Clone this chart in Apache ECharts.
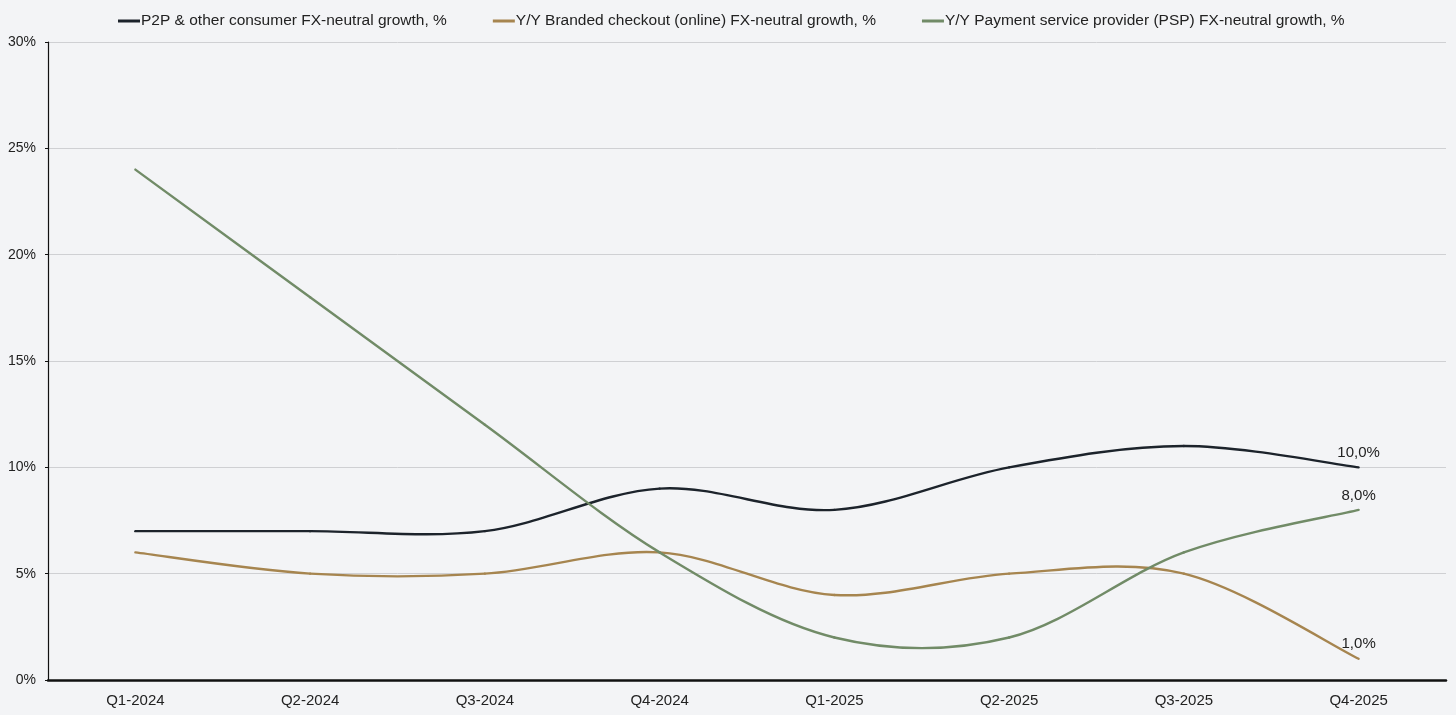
<!DOCTYPE html>
<html>
<head>
<meta charset="utf-8">
<script src="https://cdn.jsdelivr.net/npm/echarts@6/dist/echarts.min.js"></script>
<style>
html,body{margin:0;padding:0;background:#f3f4f6;}
#c{width:1456px;height:715px;}
</style>
</head>
<body>
<div id="c"></div>
<script>
const categories = ['Q1-2024','Q2-2024','Q3-2024','Q4-2024','Q1-2025','Q2-2025','Q3-2025','Q4-2025'];
const seriesNames = ['P2P & other consumer FX-neutral growth, %','Y/Y Branded checkout (online) FX-neutral growth, %','Y/Y Payment service provider (PSP) FX-neutral growth, %'];
const p2p = [7, 7, 7, 9, 8, 10, 11, 10];
const branded = [6, 5, 5, 6, 4, 5, 5, 1];
const psp = [24, 18, 12, 6, 2, 2, 6, 8];
const colors = ['#1c232b', '#a6854f', '#718b67'];

const font = '"Liberation Sans", Arial, Helvetica, sans-serif';

function mk(name, vals, color){
  const n = vals.length;
  return {
    name: name,
    type: 'custom',
    itemStyle: {color: color},
    data: vals.map((v, i) => [i, v]),
    encode: {x: 0, y: 1},
    renderItem: function(params, api){
      const i = params.dataIndex;
      const pt = j => api.coord([j, vals[j]]);
      const children = [];
      if (i < n - 1) {
        const p0 = pt(Math.max(i - 1, 0));
        const p1 = pt(i);
        const p2 = pt(i + 1);
        const p3 = pt(Math.min(i + 2, n - 1));
        children.push({
          type: 'bezierCurve',
          shape: {
            x1: p1[0], y1: p1[1],
            cpx1: p1[0] + (p2[0] - p0[0]) / 6, cpy1: p1[1] + (p2[1] - p0[1]) / 6,
            cpx2: p2[0] - (p3[0] - p1[0]) / 6, cpy2: p2[1] - (p3[1] - p1[1]) / 6,
            x2: p2[0], y2: p2[1]
          },
          style: {stroke: color, lineWidth: 2.4, fill: null, lineCap: 'round'}
        });
      } else {
        const p = pt(i);
        children.push({
          type: 'text',
          style: {
            text: vals[i].toFixed(1).replace('.', ',') + '%',
            x: p[0], y: p[1] - 7,
            align: 'center', verticalAlign: 'bottom',
            fill: '#222', fontSize: 15, fontFamily: font
          }
        });
      }
      return {type: 'group', children: children};
    }
  };
}

const chart = echarts.init(document.getElementById('c'));
chart.setOption({
  backgroundColor: '#f3f4f6',
  animation: false,
  legend: {
    top: 8, left: 113,
    icon: 'rect',
    itemWidth: 22, itemHeight: 3, itemGap: 46,
    textStyle: {fontSize: 15.5, color: '#222', fontFamily: font, padding: [0,0,0,-4]},
    data: seriesNames
  },
  grid: {left: 48, right: 10, top: 42, bottom: 35},
  xAxis: {
    type: 'category',
    data: categories,
    boundaryGap: true,
    axisLine: {lineStyle: {color: '#111', width: 2.5}},
    axisTick: {show: false},
    axisLabel: {fontSize: 15, color: '#222', fontFamily: font, margin: 13},
    splitLine: {show: false}
  },
  yAxis: {
    type: 'value',
    min: 0, max: 30, interval: 5,
    axisLine: {show: true, lineStyle: {color: '#111', width: 1.2}},
    axisTick: {show: true, length: 3, lineStyle: {color: '#111'}},
    axisLabel: {fontSize: 14, color: '#222', fontFamily: font, formatter: '{value}%', margin: 12},
    splitLine: {lineStyle: {color: '#cfd0d3', width: 1}}
  },
  color: colors,
  series: [mk(seriesNames[0], p2p, colors[0]), mk(seriesNames[1], branded, colors[1]), mk(seriesNames[2], psp, colors[2])]
});
</script>
</body>
</html>
